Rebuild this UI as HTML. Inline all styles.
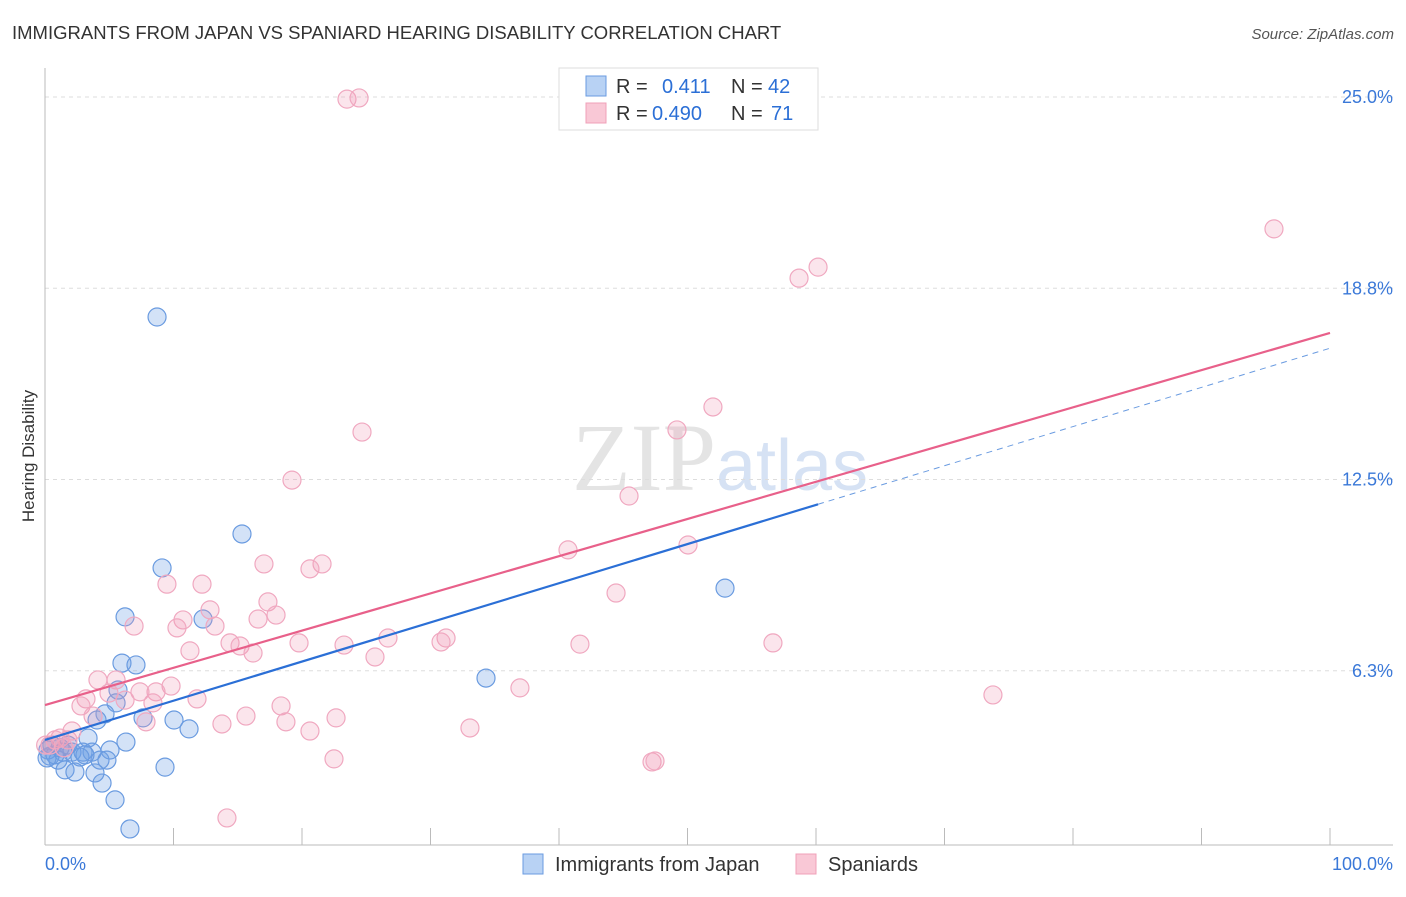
<!DOCTYPE html>
<html><head><meta charset="utf-8"><style>
body{margin:0;background:#fff;font-family:"Liberation Sans",sans-serif;}
</style></head><body>
<svg width="1406" height="892" xmlns="http://www.w3.org/2000/svg" style="font-family:'Liberation Sans',sans-serif">
<text x="12" y="39" font-size="18.5" fill="#333">IMMIGRANTS FROM JAPAN VS SPANIARD HEARING DISABILITY CORRELATION CHART</text>
<text x="1394" y="39" font-size="15" fill="#555" font-style="italic" text-anchor="end">Source: ZipAtlas.com</text>
<text x="720" y="490" font-size="96" fill="#e4e4e4" text-anchor="middle" font-family="Liberation Serif,serif">ZIP<tspan fill="#d6e2f4" font-family="Liberation Sans,sans-serif" font-size="72">atlas</tspan></text>
<g id="grid"></g><g id="axes"></g><g id="pts"></g><g id="lines"></g>
<text transform="translate(34,456) rotate(-90)" font-size="17" fill="#333" text-anchor="middle">Hearing Disability</text>
<text x="45" y="870" font-size="18" fill="#3a78d8">0.0%</text>
<text x="1393" y="870" font-size="18" fill="#3a78d8" text-anchor="end">100.0%</text>
<g>
<rect x="559" y="68" width="259" height="62" fill="#fff" stroke="#ddd"/>
<rect x="586" y="76" width="20" height="20" fill="#b8d2f4" stroke="#6a9be0"/>
<rect x="586" y="103" width="20" height="20" fill="#f9c8d6" stroke="#f0a0b8"/>
<text font-size="20" fill="#333"><tspan x="616" y="93">R =</tspan><tspan x="662" y="93" fill="#2b6fd6">0.411</tspan><tspan x="731" y="93">N =</tspan><tspan x="768" y="93" fill="#2b6fd6">42</tspan></text>
<text font-size="20" fill="#333"><tspan x="616" y="120">R =</tspan><tspan x="652" y="120" fill="#2b6fd6">0.490</tspan><tspan x="731" y="120">N =</tspan><tspan x="771" y="120" fill="#2b6fd6">71</tspan></text>
</g>
<g>
<rect x="523" y="854" width="20" height="20" fill="#b8d2f4" stroke="#6a9be0"/>
<text x="555" y="871" font-size="20" fill="#333">Immigrants from Japan</text>
<rect x="796" y="854" width="20" height="20" fill="#f9c8d6" stroke="#f0a0b8"/>
<text x="828" y="871" font-size="20" fill="#333">Spaniards</text>
</g>
</svg>
<script>
const yTicks=[25.0,18.75,12.5,6.25];
const yTickLabels=["25.0%","18.8%","12.5%","6.3%"];
const xTicks=[0,10,20,30,40,50,60,70,80,90,100];
const japanX=[8.72,15.33,9.11,6.23,12.30,5.99,7.08,5.68,34.32,52.92,5.53,4.67,4.05,7.63,10.04,11.21,3.35,6.30,5.06,1.40,2.10,2.96,3.66,4.28,4.82,2.72,1.01,0.39,0.23,0.54,1.56,2.33,3.89,9.34,4.44,5.45,6.61,0.78,1.17,1.79,3.11,0.16];
const japanY=[17.81,10.72,9.61,8.01,7.94,6.50,6.44,5.62,6.01,8.95,5.20,4.84,4.64,4.71,4.64,4.35,4.05,3.92,3.66,3.59,3.59,3.59,3.59,3.33,3.33,3.43,3.33,3.46,3.66,3.82,3.01,2.94,2.91,3.10,2.58,2.03,1.08,3.50,3.73,3.82,3.50,3.40];
const spanX=[23.50,24.44,95.64,60.16,58.68,51.98,24.67,49.18,19.22,45.45,40.70,50.04,17.04,21.56,20.62,9.49,12.22,44.44,17.35,12.84,17.98,10.74,6.93,10.27,16.58,13.23,31.21,26.69,30.82,41.63,56.65,14.40,15.18,19.77,23.27,16.19,11.28,25.68,9.81,8.64,7.39,5.53,4.12,6.23,8.40,3.19,2.80,4.98,11.83,36.96,73.77,15.64,18.37,13.77,22.65,3.74,7.86,18.75,20.62,33.07,2.10,1.17,1.79,0.39,0.78,22.49,47.24,47.47,14.16,0.05,1.48];
const spanY=[24.93,24.97,20.69,19.44,19.08,14.87,14.05,14.12,12.48,11.96,10.20,10.36,9.74,9.74,9.58,9.08,9.08,8.79,8.50,8.24,8.07,7.91,7.71,7.65,7.94,7.71,7.32,7.32,7.19,7.12,7.16,7.16,7.06,7.16,7.09,6.83,6.90,6.70,5.75,5.56,5.56,5.95,5.95,5.29,5.20,5.33,5.10,5.52,5.33,5.69,5.46,4.77,5.10,4.51,4.71,4.77,4.58,4.58,4.28,4.38,4.28,4.05,3.99,3.82,3.99,3.37,3.27,3.30,1.44,3.82,3.73];
const japanFit=[3.99,0.128];   // intercept, slope
const spanFit=[5.13,0.1216];
const japanFitEnd=60.16;
const NS="http://www.w3.org/2000/svg";
const X=v=>45+v*12.85, Y=v=>862-v*30.6;
function mk(t,a,p){const e=document.createElementNS(NS,t);for(const k in a)e.setAttribute(k,a[k]);document.getElementById(p).appendChild(e);return e;}
yTicks.forEach((t,i)=>{
 const g=mk('line',{x1:45,x2:1393,y1:Y(t),y2:Y(t),stroke:'#ddd','stroke-dasharray':'4,4'},'grid');
 
 
 const l=mk('text',{x:1393,y:Y(t)+6,'font-size':18,fill:'#3a78d8','text-anchor':'end'},'grid');
 l.textContent=yTickLabels[i];
 
 
});
const ax=mk('line',{x1:45,x2:45,y1:68,y2:845,stroke:'#bbb'},'axes');


const bx=mk('line',{x1:45,x2:1393,y1:845,y2:845,stroke:'#bbb'},'axes');


xTicks.forEach(t=>{
 const e=mk('line',{x1:X(t),x2:X(t),y1:828,y2:845,stroke:'#bbb'},'axes');
 
 
});
japanX.forEach((x,i)=>{
 const c=mk('circle',{cx:X(x),cy:Y(japanY[i]),r:9,fill:'rgba(110,160,230,0.3)',stroke:'#6a9be0','stroke-width':1.2},'pts');
 
 
});
spanX.forEach((x,i)=>{
 const c=mk('circle',{cx:X(x),cy:Y(spanY[i]),r:9,fill:'rgba(240,150,180,0.25)',stroke:'#f0a8c0','stroke-width':1.2},'pts');
 
 
});
const f=(fit,x)=>fit[0]+fit[1]*x;
const l1=mk('line',{x1:X(0),y1:Y(f(spanFit,0)),x2:X(100),y2:Y(f(spanFit,100)),stroke:'#e8608a','stroke-width':2.2},'lines');


const l2=mk('line',{x1:X(0),y1:Y(f(japanFit,0)),x2:X(japanFitEnd),y2:Y(f(japanFit,japanFitEnd)),stroke:'#2b6fd6','stroke-width':2.2},'lines');


const l3=mk('line',{x1:X(japanFitEnd),y1:Y(f(japanFit,japanFitEnd)),x2:X(100),y2:Y(f(japanFit,100)),stroke:'#6a9be0','stroke-width':1,'stroke-dasharray':'6,5'},'lines');


</script>
</body></html>
